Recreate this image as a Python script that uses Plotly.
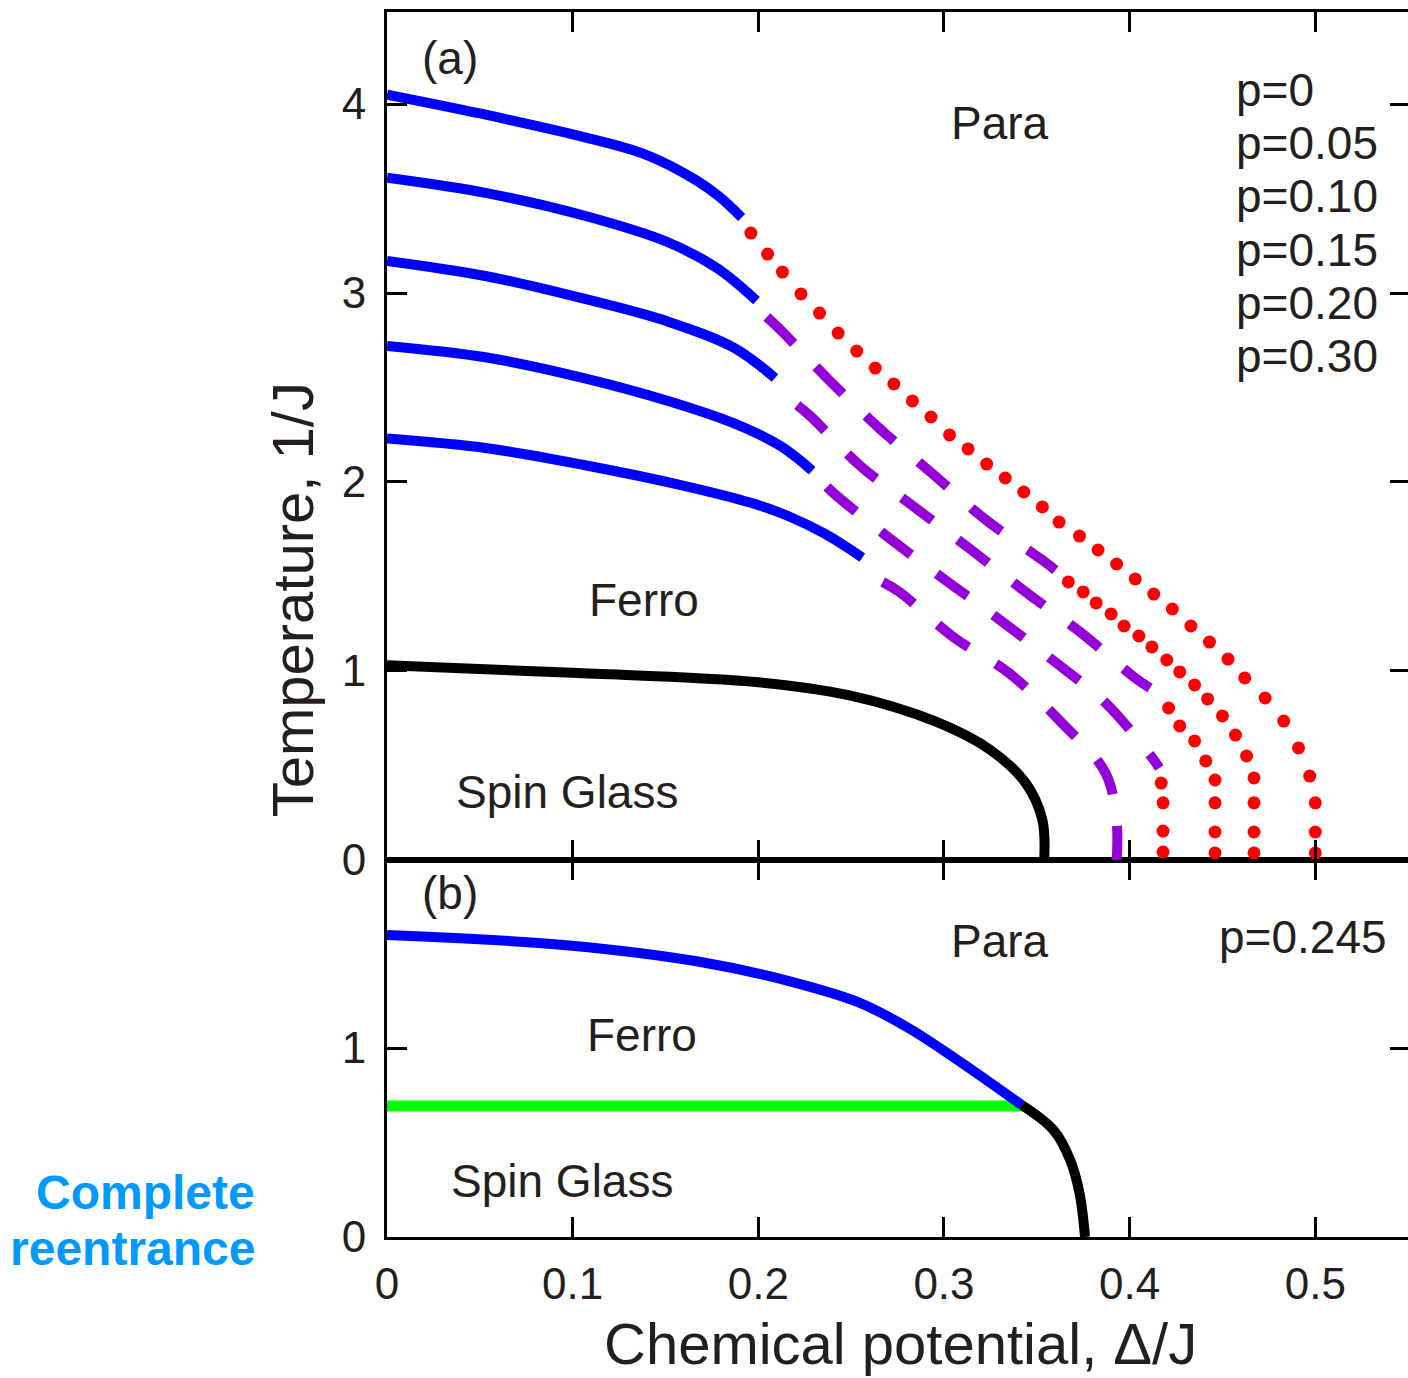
import plotly.graph_objects as go

FONT = "Liberation Sans, Arial, Helvetica, sans-serif"
TXT = "#231f20"
BLUE = "#0000ff"
PURPLE = "#9400d8"
RED = "#ff0000"
GREEN = "#00ff00"

# ---------------- Panel (a): second-order Ferro/Para lines (solid blue) ----------------
x_blue_p000 = [0.0, 0.050, 0.104, 0.140, 0.166, 0.179, 0.191]
t_blue_p000 = [4.05, 3.95, 3.83, 3.73, 3.60, 3.51, 3.40]
x_blue_p005 = [0.0, 0.053, 0.106, 0.151, 0.178, 0.199]
t_blue_p005 = [3.61, 3.53, 3.41, 3.27, 3.13, 2.96]
x_blue_p010 = [0.0, 0.053, 0.106, 0.151, 0.187, 0.209]
t_blue_p010 = [3.17, 3.09, 2.97, 2.85, 2.71, 2.55]
x_blue_p015 = [0.0, 0.053, 0.106, 0.151, 0.187, 0.212, 0.229]
t_blue_p015 = [2.72, 2.66, 2.55, 2.43, 2.31, 2.19, 2.06]
x_blue_p020 = [0.0, 0.053, 0.106, 0.160, 0.196, 0.216, 0.236, 0.256]
t_blue_p020 = [2.23, 2.18, 2.09, 1.98, 1.89, 1.82, 1.725, 1.60]

# ---------------- Panel (a): dashed purple lines ----------------
x_dash_p005 = [0.2046, 0.212, 0.238, 0.265, 0.294, 0.322, 0.353, 0.360]
t_dash_p005 = [2.873, 2.804, 2.540, 2.286, 2.042, 1.804, 1.587, 1.534]
x_dash_p010 = [0.221, 0.228, 0.255, 0.284, 0.314, 0.344, 0.374, 0.403, 0.411]
t_dash_p010 = [2.407, 2.349, 2.085, 1.868, 1.646, 1.418, 1.201, 0.963, 0.910]
x_dash_p015 = [0.237, 0.241, 0.267, 0.297, 0.328, 0.357, 0.387, 0.411, 0.416]
t_dash_p015 = [1.974, 1.937, 1.730, 1.508, 1.286, 1.069, 0.831, 0.556, 0.487]
x_dash_p020 = [0.267, 0.276, 0.305, 0.335, 0.363, 0.387, 0.393, 0.393]
t_dash_p020 = [1.471, 1.418, 1.180, 0.989, 0.730, 0.460, 0.200, 0.000]

# ---------------- Panel (a): dotted red first-order lines ----------------
x_dot_p000 = [0.196, 0.205, 0.213, 0.223, 0.233, 0.243, 0.253, 0.263, 0.273, 0.283,
              0.293, 0.303, 0.313, 0.323, 0.333, 0.343, 0.353, 0.362, 0.373, 0.383,
              0.393, 0.403, 0.413, 0.423, 0.433, 0.443, 0.453, 0.462, 0.473, 0.483,
              0.491, 0.497, 0.500, 0.500, 0.500]
t_dot_p000 = [3.317, 3.206, 3.111, 2.995, 2.894, 2.788, 2.693, 2.603, 2.519, 2.429,
              2.344, 2.249, 2.175, 2.095, 2.021, 1.947, 1.868, 1.788, 1.714, 1.640,
              1.566, 1.487, 1.407, 1.328, 1.238, 1.153, 1.063, 0.963, 0.857, 0.735,
              0.593, 0.444, 0.302, 0.148, 0.037]
x_dot_p005 = [0.367, 0.375, 0.382, 0.390, 0.397, 0.405, 0.412, 0.420, 0.427, 0.435,
              0.442, 0.450, 0.457, 0.463, 0.467, 0.467, 0.467, 0.467]
t_dot_p005 = [1.471, 1.418, 1.360, 1.302, 1.238, 1.185, 1.127, 1.058, 0.995, 0.926,
              0.852, 0.762, 0.661, 0.550, 0.434, 0.302, 0.148, 0.037]
x_dot_p010 = [0.421, 0.427, 0.435, 0.441, 0.446, 0.446, 0.446, 0.446]
t_dot_p010 = [0.804, 0.709, 0.630, 0.524, 0.423, 0.302, 0.148, 0.037]
x_dot_p015 = [0.417, 0.418, 0.418, 0.418]
t_dot_p015 = [0.407, 0.302, 0.153, 0.042]

# ---------------- Panel (a): p=0.30 Para/Spin-glass line (black) ----------------
x_sg_p030 = [0.0, 0.100, 0.200, 0.248, 0.296, 0.325, 0.344, 0.353, 0.354]
t_sg_p030 = [1.03, 0.99, 0.94, 0.873, 0.730, 0.582, 0.407, 0.212, 0.0]

p_labels = ["p=0", "p=0.05", "p=0.10", "p=0.15", "p=0.20", "p=0.30"]

# ---------------- Panel (b): p = 0.245 ----------------
x_b_ferro = [0.0, 0.095, 0.169, 0.218, 0.255, 0.280, 0.305, 0.342]
t_b_ferro = [1.598, 1.545, 1.455, 1.350, 1.238, 1.111, 0.952, 0.698]
x_b_reent = [0.0, 0.342]
t_b_reent = [0.693, 0.693]
x_b_sg = [0.342, 0.359, 0.368, 0.373, 0.376]
t_b_sg = [0.698, 0.566, 0.407, 0.233, 0.0]

x_ticks = [0, 0.1, 0.2, 0.3, 0.4, 0.5]
x_ticktext = ["0", "0.1", "0.2", "0.3", "0.4", "0.5"]
ya_ticks = [0, 1, 2, 3, 4]
yb_ticks = [0, 1]

fig = go.Figure()

def line(x, y, color, xa, ya, dash="solid", width=10):
    fig.add_trace(go.Scatter(x=x, y=y, mode="lines", xaxis=xa, yaxis=ya,
                             line=dict(color=color, width=width, dash=dash,
                                       shape="spline", smoothing=1.0),
                             hoverinfo="skip", showlegend=False))

def dots(x, y, xa, ya):
    fig.add_trace(go.Scatter(x=x, y=y, mode="markers", xaxis=xa, yaxis=ya,
                             marker=dict(color=RED, size=13, line=dict(width=0)),
                             hoverinfo="skip", showlegend=False))

for xs, ts in [(x_blue_p000, t_blue_p000), (x_blue_p005, t_blue_p005),
               (x_blue_p010, t_blue_p010), (x_blue_p015, t_blue_p015),
               (x_blue_p020, t_blue_p020)]:
    line(xs, ts, BLUE, "x2", "y2")
for xs, ts in [(x_dash_p005, t_dash_p005), (x_dash_p010, t_dash_p010),
               (x_dash_p015, t_dash_p015), (x_dash_p020, t_dash_p020)]:
    line(xs, ts, PURPLE, "x2", "y2", dash="38px,32px")
for xs, ts in [(x_dot_p000, t_dot_p000), (x_dot_p005, t_dot_p005),
               (x_dot_p010, t_dot_p010), (x_dot_p015, t_dot_p015)]:
    dots(xs, ts, "x2", "y2")
line(x_sg_p030, t_sg_p030, "black", "x2", "y2")

line(x_b_reent, t_b_reent, GREEN, "x", "y", width=11)
line(x_b_ferro, t_b_ferro, BLUE, "x", "y")
line(x_b_sg, t_b_sg, "black", "x", "y")

# the frame runs slightly past the right edge of the 1408 px window (as in the reference)
FIG_W = 1413
XMAX = (FIG_W - 387) / 1862.0
axis_common = dict(showgrid=False, zeroline=False, showline=True, linecolor="black",
                   linewidth=3, mirror="ticks", ticks="inside", ticklen=20,
                   tickwidth=3, tickcolor="black",
                   tickfont=dict(family=FONT, size=44, color=TXT))

fig.update_layout(
    width=FIG_W, height=1378,
    margin=dict(l=387, r=0, t=12, b=141),
    paper_bgcolor="white", plot_bgcolor="white",
    xaxis=dict(domain=[0, 1], range=[0, XMAX], anchor="y", tickvals=x_ticks,
               ticktext=x_ticktext, ticklabelstandoff=6, **axis_common),
    yaxis=dict(domain=[0, 0.3078], range=[0, 1.995], anchor="x", tickvals=yb_ticks,
               ticklabelstandoff=9, **axis_common),
    xaxis2=dict(domain=[0, 1], range=[0, XMAX], anchor="y2", tickvals=x_ticks,
                showticklabels=False, **axis_common),
    yaxis2=dict(domain=[0.3078, 1], range=[0, 4.487], anchor="x2", tickvals=ya_ticks,
                ticklabelstandoff=9, **axis_common),
)

ann = []
def txt(text, x, y, xref, yref, size=46, xanchor="center", color=TXT, bold=False, angle=0):
    ann.append(dict(text=("<b>%s</b>" % text) if bold else text, x=x, y=y, xref=xref, yref=yref,
                    showarrow=False, xanchor=xanchor, yanchor="middle", textangle=angle,
                    font=dict(family=FONT, size=size, color=color)))

# panel (a)
txt("(a)", 0.0338, 4.243, "x2", "y2")
txt("Para", 0.330, 3.90, "x2", "y2")
txt("Ferro", 0.1386, 1.376, "x2", "y2")
txt("Spin Glass", 0.0972, 0.36, "x2", "y2")
p_y = [4.074, 3.794, 3.513, 3.228, 2.947, 2.667]
for lab, yy in zip(p_labels, p_y):
    txt(lab, 0.456, yy, "x2", "y2", xanchor="left")
# panel (b)
txt("(b)", 0.0338, 1.820, "x", "y")
txt("Para", 0.330, 1.566, "x", "y")
txt("Ferro", 0.1375, 1.069, "x", "y")
txt("Spin Glass", 0.0945, 0.296, "x", "y")
txt("p=0.245", 0.4936, 1.587, "x", "y")
# axis titles (positions in px of the 1225 px tall plot block)
PH = 1225.0
PW = FIG_W - 387.0
txt("Chemical potential, \u0394/J", (902 - 387) / PW, (1237 - 1343) / PH, "paper", "paper", size=58)
txt("Temperature, 1/J", (292 - 387) / PW, (1237 - 600) / PH, "paper", "paper", size=58, angle=-90)
# side note
txt("Complete", (257 - 387) / PW, (1237 - 1192) / PH, "paper", "paper", size=48,
    xanchor="right", color="#0099ff", bold=True)
txt("reentrance", (257 - 387) / PW, (1237 - 1248) / PH, "paper", "paper", size=48,
    xanchor="right", color="#0099ff", bold=True)

fig.update_layout(annotations=ann)
fig.write_html("out.html", config={"displayModeBar": False},
               post_script="document.body.style.margin='0';document.body.style.overflow='hidden';")
